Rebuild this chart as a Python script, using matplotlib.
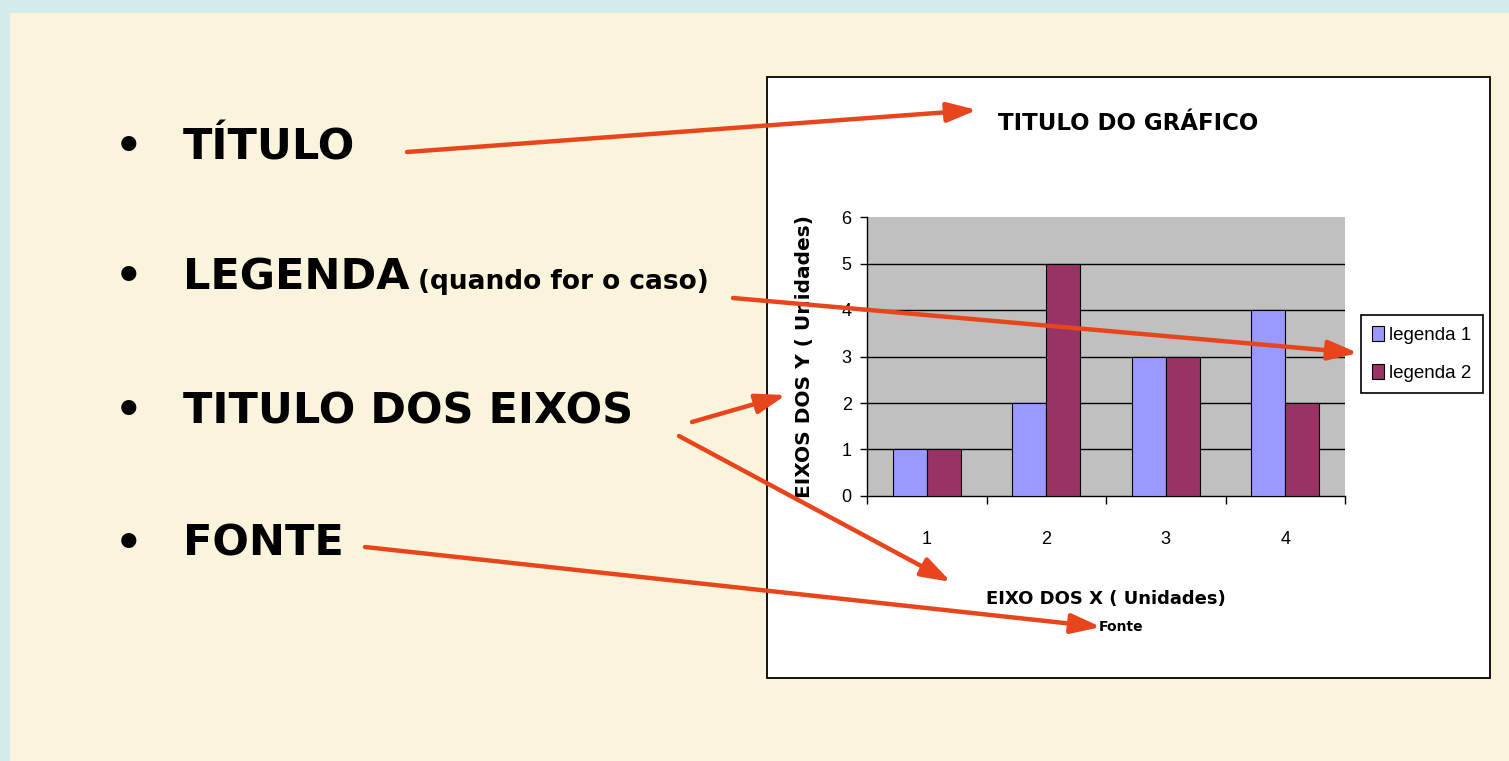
import matplotlib
matplotlib.use("Agg")
import matplotlib.pyplot as plt
from matplotlib.patches import Rectangle

# ---- data ----
categories = ["1", "2", "3", "4"]
serie_1 = [1, 2, 3, 4]
serie_2 = [1, 5, 3, 2]
series_names = ["legenda 1", "legenda 2"]
y_ticks = [0, 1, 2, 3, 4, 5, 6]
bullets = ["TÍTULO", "LEGENDA", "TITULO DOS EIXOS", "FONTE"]
bullet_note = "(quando for o caso)"
chart_title = "TITULO DO GRÁFICO"
x_title = "EIXO DOS X ( Unidades)"
y_title = "EIXOS DOS Y ( Unidades)"
source_text = "Fonte"

W, H = 1509, 761
DPI = 100
fig = plt.figure(figsize=(W / DPI, H / DPI), dpi=DPI)
fig.patch.set_facecolor("#d5ecec")

def fr(x0, y0, x1, y1):
    return [x0 / W, 1 - y1 / H, (x1 - x0) / W, (y1 - y0) / H]

# background layer in pixel coordinates
bg = fig.add_axes([0, 0, 1, 1], zorder=0)
bg.set_xlim(0, W)
bg.set_ylim(H, 0)
bg.axis("off")
bg.add_patch(Rectangle((10, 13), W - 10, H - 13, facecolor="#faf4dc", edgecolor="none"))
# chart box
bg.add_patch(Rectangle((767, 77), 723, 601, facecolor="white", edgecolor="black", lw=1.3))

bold = dict(family="DejaVu Sans", fontweight="bold", color="black")
baselines = [159, 289, 423, 556]
for txt, yb in zip(bullets, baselines):
    bg.text(115, yb, "•", fontsize=31, va="baseline", ha="left", **bold)
    bg.text(183, yb, txt, fontsize=31, va="baseline", ha="left", **bold)
bg.text(418, 289, bullet_note, fontsize=19, va="baseline", ha="left", **bold)

# chart axes
narrow = ["Liberation Sans Narrow", "Liberation Sans"]
ax = fig.add_axes(fr(867, 217, 1345, 496), zorder=2)
ax.set_facecolor("#c0c0c0")
xs = list(range(1, len(categories) + 1))
w = 1 / 3.5
ax.bar([x - w / 2 for x in xs], serie_1, width=w, color="#9999ff",
       edgecolor="black", lw=0.8, label=series_names[0], zorder=3)
ax.bar([x + w / 2 for x in xs], serie_2, width=w, color="#993366",
       edgecolor="black", lw=0.8, label=series_names[1], zorder=3)
ax.set_xlim(0.5, len(categories) + 0.5)
ax.set_ylim(0, 6)
ax.set_yticks(y_ticks)
ax.set_yticklabels([str(v) for v in y_ticks], family=narrow, fontsize=13)
ax.set_xticks([x + 0.5 for x in [0] + xs])
ax.set_xticklabels([])
ax.set_xticks(xs, minor=True)
ax.set_xticklabels(categories, minor=True, family=narrow, fontsize=13)
ax.tick_params(axis="x", which="major", direction="out", length=6, width=1, color="black")
ax.tick_params(axis="x", which="minor", length=0, pad=25)
ax.tick_params(axis="y", direction="out", length=5, width=1, pad=6)
for v in y_ticks[1:-1]:
    ax.axhline(v, color="black", lw=1, zorder=1)
for s in ["top", "right"]:
    ax.spines[s].set_visible(False)
for s in ["left", "bottom"]:
    ax.spines[s].set_color("black")
    ax.spines[s].set_linewidth(1)
ax.set_axisbelow(True)

ax.set_ylabel(y_title, fontsize=14.5, **bold)
ax.yaxis.set_label_coords((814 - 867) / 478, 0.5)
ax.set_xlabel(x_title, fontsize=13, **bold)
ax.xaxis.set_label_coords((1106 - 867) / 478, -(590 - 496) / 279)
ax.set_title(chart_title, fontsize=16.5, va="center", pad=0,
             x=(1128 - 867) / 478, y=1 + (217 - 123) / 279, **bold)

leg = ax.legend(loc="center left", bbox_to_anchor=((1361 - 867) / 478, 1 - (354 - 217) / 279),
                frameon=True, fancybox=False, edgecolor="black", framealpha=1,
                prop={"family": narrow, "size": 13.5}, handlelength=0.6, handleheight=0.9,
                handletextpad=0.3, borderpad=0.6, labelspacing=1.05, borderaxespad=0)
leg.get_frame().set_linewidth(1.2)

fig.text(1121 / W, 1 - 627 / H, source_text, fontsize=10, ha="center", va="center", **bold)

# arrows overlay
ov = fig.add_axes([0, 0, 1, 1], zorder=5)
ov.set_xlim(0, W)
ov.set_ylim(H, 0)
ov.axis("off")
ov.patch.set_alpha(0)
arrow_col = "#e8451c"
arrows = [((407, 152), (977, 110)),
          ((733, 298), (1358, 353)),
          ((692, 422), (786, 395)),
          ((679, 436), (951, 582)),
          ((365, 547), (1101, 627))]
for (x0, y0), (x1, y1) in arrows:
    ov.annotate("", xy=(x1, y1), xytext=(x0, y0),
                arrowprops=dict(arrowstyle="-|>,head_length=0.9,head_width=0.3",
                                color=arrow_col, lw=3.2, shrinkA=0, shrinkB=0,
                                mutation_scale=20))

fig.savefig("out.png", dpi=DPI, facecolor=fig.get_facecolor())
